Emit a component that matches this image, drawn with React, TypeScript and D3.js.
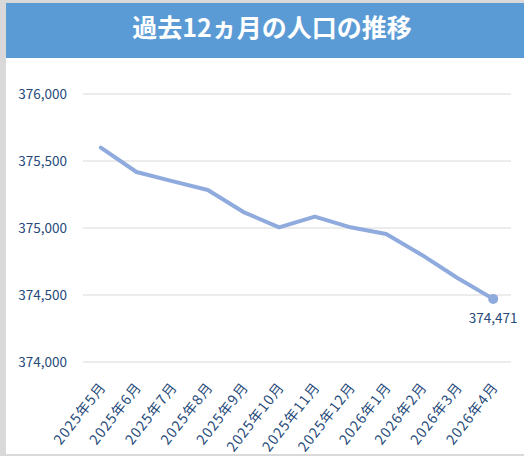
import React from "react";
import * as d3 from "d3";

const months = ["2025年5月","2025年6月","2025年7月","2025年8月","2025年9月","2025年10月","2025年11月","2025年12月","2026年1月","2026年2月","2026年3月","2026年4月"];
const population = [375600, 375418, 375350, 375284, 375119, 375005, 375085, 375005, 374955, 374799, 374627, 374471];
const yTicks = [374000, 374500, 375000, 375500, 376000];
const title = "過去12ヵ月の人口の推移";

const W = 524, H = 456;
const plotL = 83, plotR = 511, plotT = 94, plotB = 362;
const textColor = "#264a7a";
const font = "'Noto Sans CJK JP', 'Noto Sans', sans-serif";

export default function App() {
  const x = d3.scaleBand<string>().domain(months).range([plotL, plotR]);
  const y = d3.scaleLinear().domain([374000, 376000]).range([plotB, plotT]);
  const cx = (m: string) => (x(m) ?? 0) + x.bandwidth() / 2;
  const line = d3.line<number>().x((_, i) => cx(months[i])).y(v => y(v));
  const fmt = d3.format(",");
  const last = population.length - 1;
  return (
    <div style={{ position: "absolute", left: 0, top: 0 }}>
      <svg width={W} height={H} style={{ display: "block" }}>
        <rect x={0} y={0} width={W} height={H} fill="#d9d9d9" />
        <rect x={6} y={3} width={W - 6} height={451} fill="#ffffff" />
        <rect x={6} y={3} width={W - 6} height={55} fill="#5b9bd5" />
        <text x={272} y={37} textAnchor="middle" fill="#ffffff" fontSize={25} fontWeight="bold" fontFamily={font}>{title}</text>
        {yTicks.map(t => (
          <g key={t}>
            <line x1={plotL} x2={plotR} y1={y(t)} y2={y(t)} stroke="#d9d9d9" strokeWidth={1} />
            <text x={67} y={y(t)} dy="0.35em" textAnchor="end" fill={textColor} fontSize={13.5} fontFamily={font}>{fmt(t)}</text>
          </g>
        ))}
        <path d={line(population) ?? ""} fill="none" stroke="#8faadc" strokeWidth={4} strokeLinejoin="round" strokeLinecap="round" />
        <circle cx={cx(months[last])} cy={y(population[last])} r={5} fill="#8faadc" />
        <text x={cx(months[last])} y={y(population[last]) + 24} textAnchor="middle" fill={textColor} fontSize={13.5} fontFamily={font}>{fmt(population[last])}</text>
        {months.map(m => (
          <text key={m} transform={`translate(${cx(m) + 2},${plotB + 22}) rotate(-52)`} textAnchor="end" dy="0.35em" fill={textColor} fontSize={14} letterSpacing={1.1} fontFamily={font}>{m}</text>
        ))}
      </svg>
    </div>
  );
}
